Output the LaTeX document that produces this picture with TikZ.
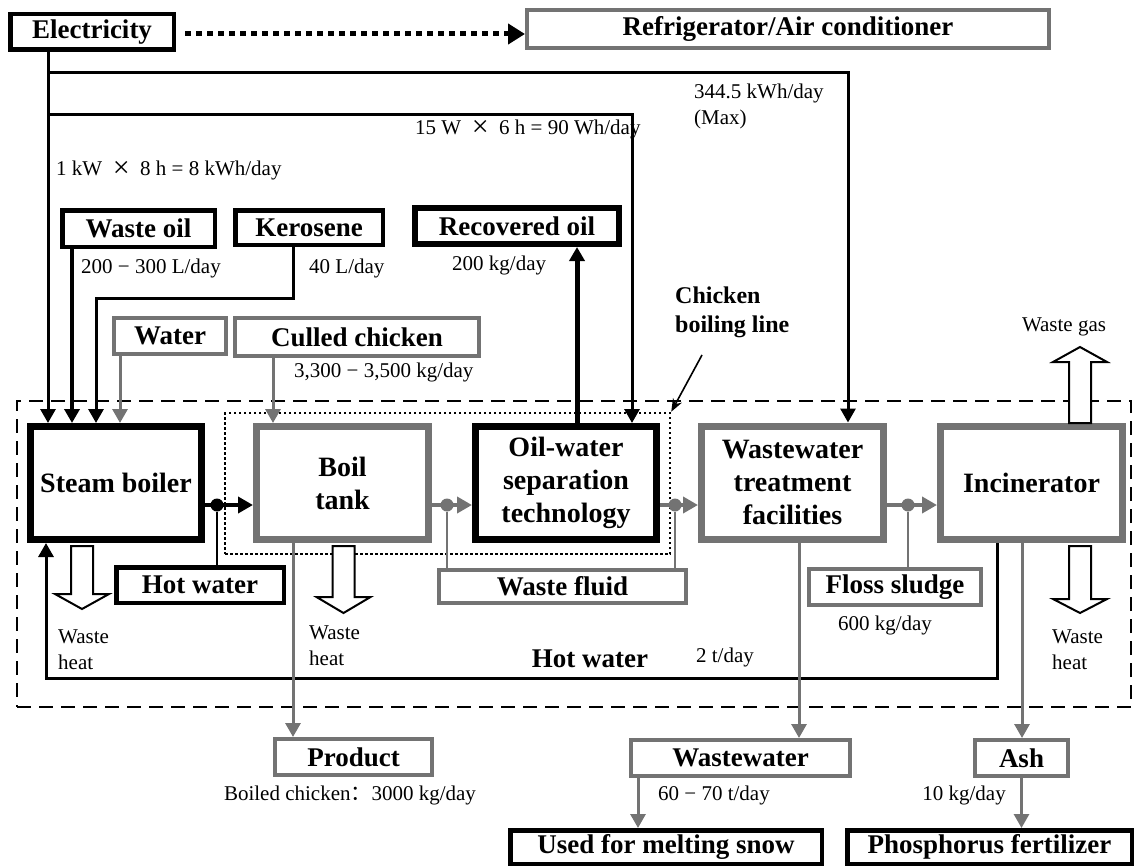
\documentclass[tikz,border=0pt]{standalone}
\usepackage{fontspec}
\setmainfont{Liberation Serif}
\newfontfamily\cjk{Noto Sans CJK SC}
\usepackage{tikz}
\usetikzlibrary{arrows.meta,calc}
\definecolor{ink}{HTML}{000000}
\definecolor{grayline}{HTML}{737373}
\newcommand{\boxfont}{\fontsize{27}{33}\selectfont\bfseries}
\newcommand{\procfont}{\fontsize{28}{33}\selectfont\bfseries}
\newcommand{\smallfont}{\fontsize{21}{26}\selectfont}
\newcommand{\by}{\hspace{10.5pt}\raisebox{-2.5pt}{\fontsize{30}{26}\selectfont ×}\hspace{10.5pt}}
\tikzset{
  blkbox/.style={draw=ink,line width=4.5pt,fill=white,inner sep=0pt,font=\boxfont,align=center},
  grybox/.style={draw=grayline,line width=4pt,fill=white,inner sep=0pt,font=\boxfont,align=center},
  procblk/.style={blkbox,line width=7pt,font=\procfont},
  procgry/.style={grybox,line width=7pt,font=\procfont},
  sysbox/.style={draw=ink,line width=2.5pt,dash pattern=on 14pt off 8pt,inner sep=0pt},
  linebox/.style={draw=ink,line width=2.5pt,dash pattern=on 2.5pt off 2.5pt,inner sep=0pt},
  eline/.style={line width=3pt,draw=ink},
  earrow/.style={eline,-{Triangle[width=15pt,length=14pt]}},
  garrow/.style={line width=3pt,draw=grayline,-{Triangle[width=15pt,length=14pt]}},
  bflow/.style={line width=4.5pt,draw=ink,-{Triangle[width=16pt,length=15pt]}},
  gflow/.style={line width=4.5pt,draw=grayline,-{Triangle[width=16pt,length=15pt]}},
  tap/.style={line width=2pt,draw=#1},
  dot/.style={circle,fill=#1,minimum size=13pt,inner sep=0pt},
  hollow/.style={draw=ink,line width=2pt,fill=white,line join=miter},
  thinarrow/.style={line width=1.6pt,draw=ink,-{Stealth[length=13pt,width=10pt]}},
  lbl/.style={font=\smallfont,inner sep=0pt,text=ink},
}
\newcommand{\heatarrow}[4]{%
  \draw[hollow] (#1-11,#2) -- (#1-11,#3) -- (#1-27,#3) -- (#1,#4) -- (#1+27,#3) -- (#1+11,#3) -- (#1+11,#2) -- cycle;
}

\begin{document}
\begin{tikzpicture}[x=1pt,y=-1pt]
  \useasboundingbox (0,0) rectangle (1134,867);
  \node[sysbox,minimum width=1114pt,minimum height=306pt] (plant) at (574,554) {};
  \node[linebox,minimum width=445pt,minimum height=141pt] (cbline) at (447.5,483.5) {};

  \node[blkbox,minimum width=163.5pt,minimum height=35.5pt] (elec) at (92,32) {Electricity};
  \node[grybox,minimum width=522pt,minimum height=38pt] (fridge) at (788,29) {Refrigerator/Air conditioner};
  \node[blkbox,minimum width=152.5pt,minimum height=36.5pt] (wasteoil) at (138.5,228.5) {Waste oil};
  \node[blkbox,minimum width=147.5pt,minimum height=34.5pt] (kerosene) at (309,227.5) {Kerosene};
  \node[blkbox,line width=6pt,minimum width=204pt,minimum height=36pt] (recoil) at (517,226) {Recovered oil};
  \node[grybox,minimum width=112pt,minimum height=36pt] (water) at (170,336) {Water};
  \node[grybox,minimum width=244pt,minimum height=38pt] (culled) at (357,337) {Culled chicken};

  \node[procblk,minimum width=171pt,minimum height=113pt] (boiler) at (116,483) {Steam boiler};
  \node[procgry,minimum width=172pt,minimum height=113pt] (boiltank) at (342.5,483) {Boil\\tank};
  \node[procblk,minimum width=181pt,minimum height=113pt] (oilwater) at (566,483) {Oil-water\\separation\\technology};
  \node[procgry,minimum width=182pt,minimum height=113pt] (wwtf) at (792.5,482.5) {Wastewater\\treatment\\facilities};
  \node[procgry,minimum width=182pt,minimum height=113pt] (incin) at (1031.5,483) {Incinerator};

  \node[blkbox,minimum width=167.5pt,minimum height=35.5pt] (hotwater) at (200,585) {Hot water};
  \node[grybox,minimum width=247pt,minimum height=33pt] (wastefluid) at (562.5,586.5) {Waste fluid};
  \node[grybox,minimum width=172pt,minimum height=36pt] (floss) at (895,587) {Floss sludge};
  \node[grybox,minimum width=157pt,minimum height=36pt] (product) at (353.5,757) {Product};
  \node[grybox,minimum width=219pt,minimum height=36pt] (wastewater) at (740.5,758) {Wastewater};
  \node[grybox,minimum width=93pt,minimum height=36pt] (ash) at (1021.5,758) {Ash};
  \node[blkbox,minimum width=311.5pt,minimum height=33.5pt] (snow) at (666,847) {Used for melting snow};
  \node[blkbox,minimum width=284.5pt,minimum height=33.5pt] (phos) at (989.5,847) {Phosphorus fertilizer};

  \node[lbl,anchor=west,align=left] (maxlbl) at (694,106) {344.5 kWh/day\\(Max)};
  \node[lbl,anchor=west] (lamplbl) at (415,129) {15 W\by 6 h = 90 Wh/day};
  \node[lbl,anchor=west] (boilerlbl) at (56,170) {1 kW\by 8 h = 8 kWh/day};
  \node[lbl,anchor=west] (oillbl) at (81,268) {200 − 300 L/day};
  \node[lbl,anchor=west] (kerolbl) at (309,268) {40 L/day};
  \node[lbl,anchor=west] (recoillbl) at (452,265) {200 kg/day};
  \node[lbl,anchor=west] (chickenlbl) at (294,372) {3,300 − 3,500 kg/day};
  \node[lbl,anchor=west,align=left,font=\fontsize{24}{29}\selectfont\bfseries] (cblbl) at (675,312) {Chicken\\boiling line};
  \node[lbl] (gaslbl) at (1064,327) {Waste gas};
  \node[lbl,font=\boxfont] (hwlbl) at (590,659) {Hot water};
  \node[lbl] (hwrate) at (725,657) {2 t/day};
  \node[lbl] (flosslbl) at (885,625) {600 kg/day};
  \node[lbl] (productlbl) at (350,795) {Boiled chicken{\cjk ：}3000 kg/day};
  \node[lbl,anchor=west] (wwlbl) at (658,795) {60 − 70 t/day};
  \node[lbl,anchor=east] (ashlbl) at (1006,795) {10 kg/day};
  \foreach \x/\y in {58/650,309/646,1052/650}
    \node[lbl,anchor=west,align=left] (wh\x) at (\x,\y) {Waste\\heat};

  \draw[line width=5pt,dash pattern=on 6pt off 5pt,-{Triangle[width=20pt,length=17pt]}] ($(elec.east)+(9,2)$) -- (fridge.west |- 0,34);
  \coordinate (j1) at (48,72);
  \coordinate (j2) at (48,114);
  \draw[earrow] (elec.south -| 48,0) -- (48,0 |- boiler.north);
  \draw[earrow] (j1) -- (848,72) -- (848,0 |- wwtf.north);
  \draw[earrow] (j2) -- (632,114) -- (632,0 |- oilwater.north);
  \draw[earrow,line width=3.5pt] (wasteoil.south -| 72,0) -- (72,0 |- boiler.north);
  \draw[earrow] (kerosene.south -| 293,0) -- (293,298) -- (96,298) -- (96,0 |- boiler.north);
  \draw[garrow] (water.south -| 120,0) -- (120,0 |- boiler.north);
  \draw[garrow] (culled.south -| 273,0) -- (273,0 |- boiltank.north);
  \draw[earrow,line width=5pt] (oilwater.north -| 577,0) -- (577,0 |- recoil.south);
  \coordinate (cbtail) at (702,355);
  \draw[thinarrow] (cbtail) -- (cbline.north east);

  \draw[bflow] (boiler.east |- 0,505) -- (boiltank.west |- 0,505);
  \draw[gflow] (boiltank.east |- 0,505) -- (oilwater.west |- 0,505);
  \draw[gflow] (oilwater.east |- 0,505) -- (wwtf.west |- 0,505);
  \draw[gflow] (wwtf.east |- 0,505) -- (incin.west |- 0,505);
  \node[dot=ink] (d1) at (217,505) {};
  \node[dot=grayline] (d2) at (447,505) {};
  \node[dot=grayline] (d3) at (675,505) {};
  \node[dot=grayline] (d4) at (908,505) {};
  \draw[tap=ink] (d1) -- (d1 |- hotwater.north);
  \draw[tap=grayline] (d2) -- (d2 |- wastefluid.north);
  \draw[tap=grayline] (d3) -- (d3 |- wastefluid.north);
  \draw[tap=grayline] (d4) -- (d4 |- floss.north);

  \draw[earrow] (incin.south -| 997,0) -- (997,678) -- (46,678) -- (46,0 |- boiler.south);
  \draw[garrow] (boiltank.south -| 293,0) -- (293,0 |- product.north);
  \draw[garrow] (wwtf.south -| 799,0) -- (799,0 |- wastewater.north);
  \draw[garrow] (incin.south -| 1022,0) -- (1022,0 |- ash.north);
  \draw[garrow] (wastewater.south -| 638,0) -- (638,0 |- snow.north);
  \draw[garrow] (ash.south) -- (ash.south |- phos.north);

  \heatarrow{82}{546}{594}{609}
  \heatarrow{343.5}{546}{597}{613}
  \heatarrow{1080}{546}{599}{613}
  \heatarrow{1080}{423}{362}{347}
\end{tikzpicture}
\end{document}
